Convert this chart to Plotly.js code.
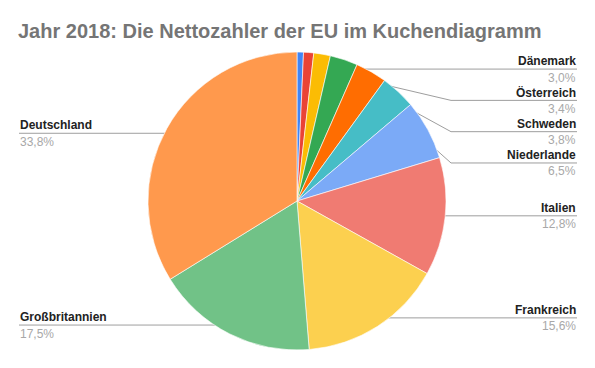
<!DOCTYPE html>
<html>
<head>
<meta charset="utf-8">
<script src="https://cdn.plot.ly/plotly-3.0.1.min.js"></script>
<style>html,body{margin:0;padding:0;background:#fff;}#chart{width:595px;height:368px;}</style>
</head>
<body>
<div id="chart"></div>
<script>
// ---- data (percent shares, clockwise from 12 o'clock) ----
const countries = ["Belgien", "Finnland", "Irland", "Dänemark", "Österreich", "Schweden", "Niederlande", "Italien", "Frankreich", "Großbritannien", "Deutschland"];
const shares = [0.7, 1.1, 1.8, 3.0, 3.4, 3.8, 6.5, 12.8, 15.6, 17.5, 33.8];
const colors = ["#4285F4", "#EA4335", "#FBBC04", "#34A853", "#FF6D01", "#46BDC6", "#7BAAF7", "#F07B72", "#FCD04F", "#71C287", "#FF994D"];
const titleText = "Jahr 2018: Die Nettozahler der EU im Kuchendiagramm";

// ---- geometry (pixels) ----
const W = 595, H = 368;
const cx = 297, cy = 201, R = 149;
const dotR = R - 10;
const rightX = 577, leftX = 19, elbowX = 451, minGap = 31.3;
const labelThreshold = 2;

const total = shares.reduce((a, b) => a + b, 0);
const fmt = v => (v / total * 100).toFixed(1).replace('.', ',') + '%';

// slice mid-angles
let cum = 0;
const items = shares.map((v, i) => {
  const mid = (cum + v / 2) / total * 2 * Math.PI;
  cum += v;
  return {i, x: cx + dotR * Math.sin(mid), y: cy - dotR * Math.cos(mid), right: Math.sin(mid) >= 0};
}).filter(o => shares[o.i] / total * 100 >= labelThreshold);

function place(list) {
  list.sort((a, b) => a.y - b.y);
  let prev = -1e9;
  list.forEach(o => { o.ly = Math.max(o.y, prev + minGap); prev = o.ly; });
}
const rightItems = items.filter(o => o.right), leftItems = items.filter(o => !o.right);
place(rightItems); place(leftItems);

const traces = [{
  type: 'pie',
  values: shares,
  labels: countries,
  marker: {colors: colors, line: {color: '#ffffff', width: 0.6}},
  sort: false,
  direction: 'clockwise',
  rotation: 0,
  textinfo: 'none',
  hoverinfo: 'none',
  showlegend: false,
  automargin: false,
  domain: {x: [(cx - R) / W, (cx + R) / W], y: [1 - (cy + R) / H, 1 - (cy - R) / H]}
}];

const annotations = [];
const lineColor = '#9e9e9e';
const nameFont = {family: 'Liberation Sans, Arial, sans-serif', size: 12, color: '#222222', weight: 'bold'};
const pctFont = {family: 'Liberation Sans, Arial, sans-serif', size: 12, color: '#a8a8a8'};

items.forEach(o => {
  let xs, ys;
  if (o.right) {
    xs = [o.x, elbowX, rightX]; ys = [o.y, o.ly, o.ly];
    if (Math.abs(o.ly - o.y) < 0.5) { xs = [o.x, rightX]; ys = [o.y, o.y]; }
  } else {
    xs = [o.x, leftX]; ys = [o.y, o.ly];
  }
  traces.push({type: 'scatter', mode: 'lines', x: xs, y: ys, xaxis: 'x', yaxis: 'y',
    line: {color: lineColor, width: 1}, hoverinfo: 'skip', showlegend: false});
  traces.push({type: 'scatter', mode: 'markers', x: [o.x], y: [o.y], xaxis: 'x', yaxis: 'y',
    marker: {color: lineColor, size: 5}, hoverinfo: 'skip', showlegend: false});
  const ax = o.right ? rightX : leftX;
  const anchor = o.right ? 'right' : 'left';
  annotations.push({x: ax, y: o.ly - 8, xref: 'x', yref: 'y', text: countries[o.i], showarrow: false,
    xanchor: anchor, yanchor: 'middle', font: nameFont, borderpad: 0});
  annotations.push({x: ax, y: o.ly + 8.5, xref: 'x', yref: 'y', text: fmt(shares[o.i]), showarrow: false,
    xanchor: anchor, yanchor: 'middle', font: pctFont, borderpad: 0});
});

const layout = {
  width: W, height: H,
  margin: {l: 0, r: 0, t: 0, b: 0},
  paper_bgcolor: '#ffffff', plot_bgcolor: 'rgba(0,0,0,0)',
  title: {text: titleText, x: 18 / W, xanchor: 'left', xref: 'paper', y: 1 - 31 / H, yanchor: 'middle',
    font: {family: 'Liberation Sans, Arial, sans-serif', size: 20, color: '#757575', weight: 'bold'}},
  xaxis: {range: [0, W], visible: false, fixedrange: true},
  yaxis: {range: [H, 0], visible: false, fixedrange: true},
  showlegend: false,
  hovermode: false,
  annotations: annotations
};

Plotly.newPlot('chart', traces, layout, {displayModeBar: false, staticPlot: true});
</script>
</body>
</html>
